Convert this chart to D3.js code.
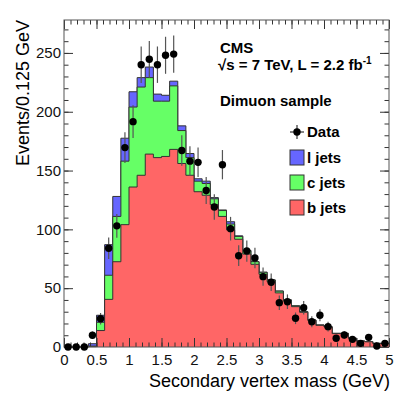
<!DOCTYPE html>
<html>
<head>
<meta charset="utf-8">
<script src="https://cdn.jsdelivr.net/npm/d3@7"></script>
<style>
body { margin: 0; background: white; }
text { font-family: "Liberation Sans", Arial, Helvetica, sans-serif; }
</style>
</head>
<body>
<div id="viz-container"></div>
<script>
// bin edges: 40 bins of 0.125 GeV from 0 to 5
let binWidth = 0.125;
let nBins = 40;

// b jets (red), c jets (green), l jets (blue) - stacked in that order
let bJets = [0, 0, 0, 0.3, 14, 40.5, 72.5, 104, 136, 146,
             164, 161, 162, 168, 156, 146, 132, 129, 121, 111,
             99.5, 91.6, 79, 70.3, 61.8, 55.5, 46, 39, 34.3, 29.5,
             22.6, 18.4, 17, 11.4, 11.4, 7.3, 5, 4.4, 3, 3];
let cJets = [0, 0, 0, 0.5, 7, 20.5, 38.5, 54, 68, 75,
             65, 48, 47, 54, 28, 15, 9, 10, 5, 5,
             5, 2.4, 2.9, 2.2, 1.7, 1.5, 1.5, 1, 0.7, 0.5,
             0.4, 0.3, 0.3, 0.2, 0.2, 0.1, 0.1, 0.1, 0.1, 0.1];
let lJets = [0, 0, 0, 2, 6, 26, 17, 19.5, 13, 8,
             9, 6, 5, 4, 4, 3.5, 2, 2, 1, 0.5,
             2, 0.5, 0.2, 0.1, 0.1, 0, 0.1, 0, 0, 0,
             0, 0, 0, 0, 0, 0, 0, 0, 0, 0];
let dataCounts = [0, 0, 0, 10, 24, 84, 103, 169.5, 191.6, 240,
                  244.6, 240, 248, 249, 167, 158, 157, 133, 119, 155,
                  100.6, 77.6, 81.6, 75.7, 59.8, 55, 37.7, 38.5, 24.4, 33.4,
                  21.5, 27, 17.3, 7.4, 10.2, 6.5, 3.1, 8.2, 0.8, 3.1];

let xTicks = [0, 0.5, 1, 1.5, 2, 2.5, 3, 3.5, 4, 4.5, 5];
let yTicks = [0, 50, 100, 150, 200, 250];

let W = 399, H = 399;
let viz = d3.select("#viz-container")
    .append("svg")
    .attr("width", W)
    .attr("height", H)
    .style("background-color", "white");

let x = d3.scaleLinear().domain([0, 5]).range([64, 389]);
let y = d3.scaleLinear().domain([0, 278]).range([347, 20]);

// cumulative stacks
let redTop = bJets.map((v, i) => v);
let greenTop = bJets.map((v, i) => v + cJets[i]);
let blueTop = bJets.map((v, i) => v + cJets[i] + lJets[i]);

function stepPoints(vals) {
    let pts = [];
    vals.forEach(function (v, i) {
        pts.push([i * binWidth, v]);
        pts.push([(i + 1) * binWidth, v]);
    });
    return pts;
}

let area = d3.area()
    .x(d => x(d[0]))
    .y0(y(0))
    .y1(d => y(d[1]));

let outline = d3.line()
    .x(d => x(d[0]))
    .y(d => y(d[1]));

let stacks = [
    { vals: blueTop, color: "#6666ff" },
    { vals: greenTop, color: "#66ff66" },
    { vals: redTop, color: "#ff6666" }
];

stacks.forEach(function (s) {
    let pts = stepPoints(s.vals);
    viz.append("path")
        .attr("d", area(pts))
        .attr("fill", s.color);
    viz.append("path")
        .attr("d", outline(pts))
        .attr("fill", "none")
        .attr("stroke", "#333")
        .attr("stroke-width", 1);
});

// axes, ticks pointing inwards
let minorX = d3.range(0, 5.001, 0.1);
let minorY = d3.range(0, 271, 10);

function drawAxis(axisFn, scale, ticks, size, transform, labels, pad) {
    let g = viz.append("g")
        .attr("transform", transform)
        .call(axisFn(scale).tickValues(ticks).tickSize(size).tickPadding(pad)
            .tickFormat(labels ? (d => d3.format("")(d)) : ""));
    g.select(".domain").remove();
    g.selectAll("line").attr("stroke", "#333");
    g.selectAll("text").attr("font-size", 15).attr("fill", "#111");
    return g;
}

drawAxis(d3.axisBottom, x, minorX, -4.5, "translate(0,347)", false, 0);
drawAxis(d3.axisBottom, x, xTicks, -9, "translate(0,347)", true, 7);
drawAxis(d3.axisTop, x, minorX, -4.5, "translate(0,20)", false, 0);
drawAxis(d3.axisTop, x, xTicks, -9, "translate(0,20)", false, 0);
drawAxis(d3.axisLeft, y, minorY, -4.5, "translate(64,0)", false, 0);
drawAxis(d3.axisLeft, y, yTicks, -9, "translate(64,0)", true, 3);
drawAxis(d3.axisRight, y, minorY, -4.5, "translate(389,0)", false, 0);
drawAxis(d3.axisRight, y, yTicks, -9, "translate(389,0)", false, 0);

// frame
viz.append("rect")
    .attr("x", x(0))
    .attr("y", y(278))
    .attr("width", x(5) - x(0))
    .attr("height", y(0) - y(278))
    .attr("fill", "none")
    .attr("stroke", "#555")
    .attr("stroke-width", 1);

// data points with poisson error bars
let points = viz.selectAll(".datapoint").data(dataCounts).enter().append("g")
    .attr("class", "datapoint")
    .attr("transform", (d, i) => "translate(" + x((i + 0.5) * binWidth) + "," + y(d) + ")");

points.filter(d => d > 0).append("line")
    .attr("x1", 0).attr("x2", 0)
    .attr("y1", d => y(d + Math.sqrt(d)) - y(d))
    .attr("y2", d => y(Math.max(0, d - Math.sqrt(d))) - y(d))
    .attr("stroke", "#555")
    .attr("stroke-width", 1.2);

points.append("circle")
    .attr("r", 3.7)
    .attr("fill", "black");

// axis titles
viz.append("text")
    .text("Secondary vertex mass (GeV)")
    .attr("x", 390)
    .attr("y", 387)
    .attr("text-anchor", "end")
    .attr("font-size", 18);

viz.append("text")
    .text("Events/0.125 GeV")
    .attr("transform", "translate(29,20) rotate(-90)")
    .attr("text-anchor", "end")
    .attr("font-size", 18);

// labels
viz.append("text")
    .text("CMS")
    .attr("x", 220).attr("y", 53)
    .attr("font-size", 15).attr("font-weight", "bold");

let lumi = viz.append("text")
    .attr("x", 218).attr("y", 70)
    .attr("font-size", 15).attr("font-weight", "bold");
lumi.append("tspan").text("√s = 7 TeV, L = 2.2 fb");
lumi.append("tspan").text("-1").attr("font-size", 10).attr("dy", -6);

viz.append("text")
    .text("Dimuon sample")
    .attr("x", 220).attr("y", 106)
    .attr("font-size", 15).attr("font-weight", "bold");

// legend
let legendX = 290;
let leg = viz.append("g");
leg.append("line").attr("x1", legendX).attr("x2", legendX + 14)
    .attr("y1", 132).attr("y2", 132).attr("stroke", "#333").attr("stroke-width", 1.2);
leg.append("line").attr("x1", legendX + 7).attr("x2", legendX + 7)
    .attr("y1", 125).attr("y2", 139).attr("stroke", "#333").attr("stroke-width", 1.2);
leg.append("circle").attr("cx", legendX + 7).attr("cy", 132).attr("r", 3.7).attr("fill", "black");
leg.append("text").text("Data").attr("x", 307).attr("y", 137)
    .attr("font-size", 15).attr("font-weight", "bold");

let legendEntries = ["l jets", "c jets", "b jets"];
let legendColors = ["#6666ff", "#66ff66", "#ff6666"];
legendEntries.forEach(function (name, i) {
    let yy = 150 + i * 25;
    leg.append("rect")
        .attr("x", legendX).attr("y", yy)
        .attr("width", 14).attr("height", 15)
        .attr("fill", legendColors[i])
        .attr("stroke", "#333").attr("stroke-width", 1);
    leg.append("text").text(name)
        .attr("x", 307).attr("y", yy + 13)
        .attr("font-size", 15).attr("font-weight", "bold");
});
</script>
</body>
</html>
